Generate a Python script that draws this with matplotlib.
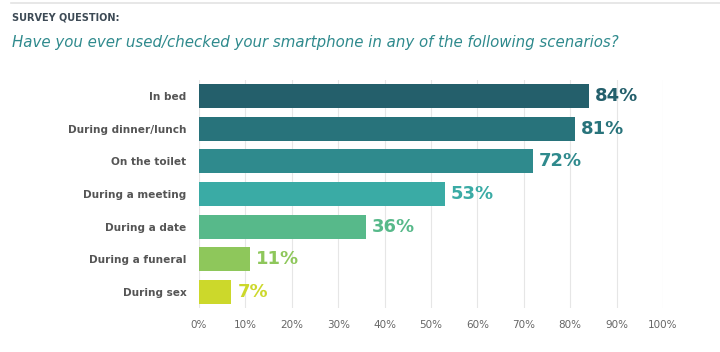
import matplotlib
matplotlib.use("Agg")
import matplotlib.pyplot as plt
from matplotlib.lines import Line2D

categories = ["In bed", "During dinner/lunch", "On the toilet", "During a meeting",
              "During a date", "During a funeral", "During sex"]
values = [84, 81, 72, 53, 36, 11, 7]
colors = ["#245f6b", "#28737b", "#2f8a8d", "#3aaba5", "#57b98a", "#8ec75b", "#ccd82b"]
ticks = [0, 10, 20, 30, 40, 50, 60, 70, 80, 90, 100]
tick_labels = [str(t) + "%" for t in ticks]

fig = plt.figure(figsize=(7.2, 3.52), dpi=100)
ax = fig.add_axes([199 / 720, (352 - 308) / 352, (663 - 199) / 720, (308 - 80) / 352])

y = list(range(len(categories)))
ax.barh(y, values, height=0.74, color=colors, zorder=2)
for i, v in enumerate(values):
    ax.text(v + 1.3, i, str(v) + "%", va="center", ha="left", fontsize=13,
            fontweight="bold", color=colors[i])

ax.set_xlim(0, 100)
ax.set_ylim(len(categories) - 0.5, -0.5)
ax.set_yticks(y)
ax.set_yticklabels(categories, fontsize=7.6, fontweight="bold", color="#555555")
ax.set_xticks(ticks)
ax.set_xticklabels(tick_labels, fontsize=7.5, color="#666666")
ax.tick_params(axis="y", length=0, pad=9)
ax.tick_params(axis="x", length=0, pad=9)
ax.grid(axis="x", color="#e6e6e6", linewidth=0.8, zorder=0)
for s in ax.spines.values():
    s.set_visible(False)

fig.add_artist(Line2D([0.015, 1.0], [1 - 3 / 352, 1 - 3 / 352], color="#e3e3e3", linewidth=1.2))
fig.text(12 / 720, 1 - 17 / 352, "SURVEY QUESTION:", fontsize=7, fontweight="bold",
         color="#3d4a55", va="center")
fig.text(12 / 720, 1 - 42 / 352,
         "Have you ever used/checked your smartphone in any of the following scenarios?",
         fontsize=10.8, style="italic", color="#2f8a8d", va="center")

fig.savefig("out.png", dpi=100, facecolor="white")
